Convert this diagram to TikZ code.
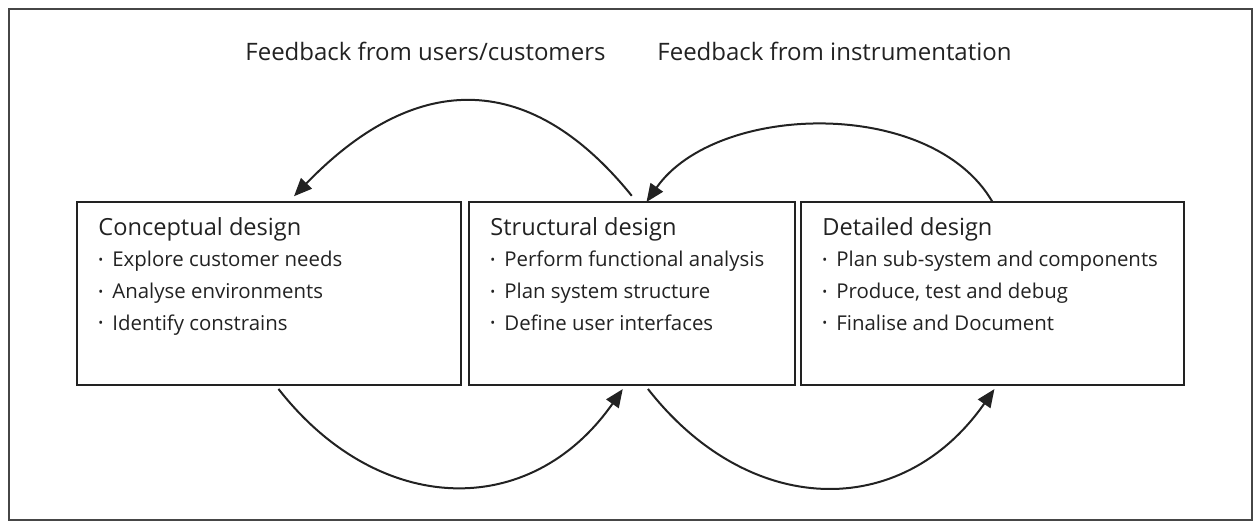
\documentclass[tikz,border=0pt]{standalone}
\usepackage{fontspec}
\setmainfont{Open Sans}
\usepackage{xcolor}
\definecolor{ink}{RGB}{34, 34, 34}
\usepackage{tikz}
\usetikzlibrary{positioning, arrows.meta}
\newcommand{\itm}{\makebox[7pt][l]{\raisebox{1.1pt}{\fontsize{6.5}{6.5}\selectfont\textbullet}}}
\newcommand{\ttl}{\fontsize{11.8}{15.8}\selectfont}
\tikzset{
  phase/.style = {
    draw=ink,
    line width=1pt,
    minimum height=91.5pt,
    inner sep=0pt,
    outer sep=0pt
  },
  body/.style = {
    anchor=north west,
    align=left,
    inner sep=0pt,
    text=ink,
    font=\fontsize{10.2}{15.8}\selectfont
  },
  fblabel/.style = {
    anchor=base west,
    inner sep=0pt,
    text=ink,
    font=\fontsize{12}{14}\selectfont
  },
  arrow/.style = {
    -{Triangle[length=9pt, width=7.5pt]},
    line width=1pt,
    draw=ink
  },
}

\begin{document}
\begin{tikzpicture}[x=0.5pt, y=0.5pt]
    \useasboundingbox (0,0) rectangle (1253,521);
    \draw[gray!55!black, line width=1pt] (9,1) rectangle (1251.5,512);
    \node[phase, minimum width=192pt, anchor=north west] (con) at (77,319) {};
    \node[phase, minimum width=163pt, right=4pt of con]      (str) {};
    \node[phase, minimum width=191.5pt, right=3pt of str]    (det) {};
    \node[body] (con-txt) at ([xshift=10.5pt, yshift=-7.5pt]con.north west)
      {{\ttl Conceptual design}\\ \itm Explore customer needs\\ \itm Analyse environments\\ \itm Identify constrains};
    \node[body] (str-txt) at ([xshift=10.5pt, yshift=-7.5pt]str.north west)
      {{\ttl Structural design}\\ \itm Perform functional analysis\\ \itm Plan system structure\\ \itm Define user interfaces};
    \node[body] (det-txt) at ([xshift=10.5pt, yshift=-7.5pt]det.north west)
      {{\ttl Detailed design}\\ \itm Plan sub-system and components\\ \itm Produce, test and debug\\ \itm Finalise and Document};
    \node[fblabel] (fb-users) at (245,460) {Feedback from users/customers};
    \node[fblabel] (fb-instr) at (657,460) {Feedback from instrumentation};
    % feedback loops
    \draw[arrow, shorten <=4pt, shorten >=4pt] (str.87) to[out=129, in=46, looseness=1.3] (con.78);
    \draw[arrow] (det.north) to[out=120, in=55, looseness=0.9] (str.81);
    % forward steps
    \draw[arrow, shorten <=2.5pt, shorten >=2.5pt] (con.-86) to[out=-52, in=-125, looseness=1.22] (str.-94);
    \draw[arrow, shorten <=2.5pt, shorten >=2.5pt] (str.-82) to[out=-52, in=-125, looseness=1.22] (det.-87);
\end{tikzpicture}
\end{document}
